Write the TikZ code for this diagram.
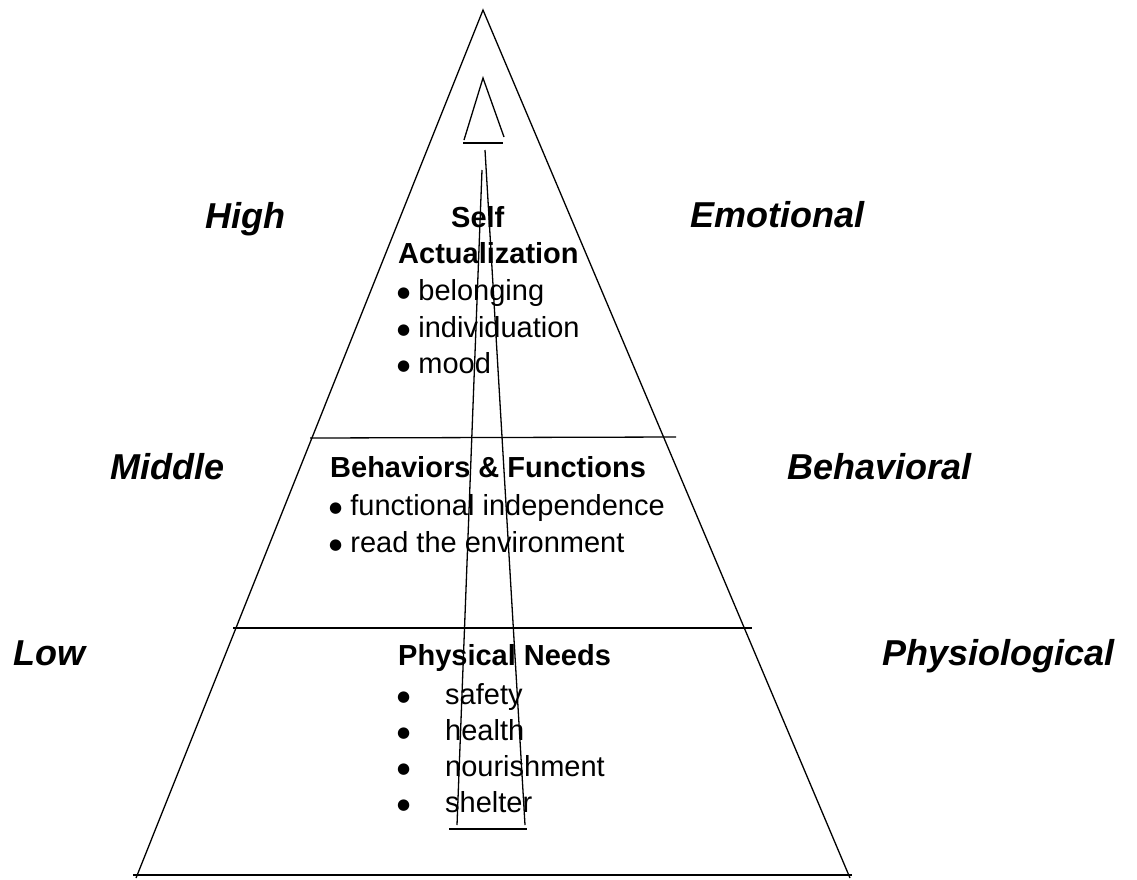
\documentclass[tikz,border=0pt]{standalone}
\usepackage{fontspec}
\setmainfont{Liberation Sans}
\newfontfamily\dejavu{DejaVu Sans}
\newcommand\bigbul{\makebox[0.35em][l]{\hspace*{-1pt}\raisebox{3pt}{\dejavu\fontsize{15}{15}\selectfont ●}}\hspace{2pt}}
\begin{document}
\begin{tikzpicture}[x=1pt,y=-1pt,
  ln/.style={line width=1.3pt, black},
  side/.style={font=\fontsize{36}{40}\selectfont\bfseries\itshape, anchor=base west, inner sep=0pt},
  body/.style={font=\fontsize{29}{34}\selectfont, anchor=base west, inner sep=0pt},
  head/.style={font=\fontsize{29}{34}\selectfont\bfseries, anchor=base west, inner sep=0pt}]
\useasboundingbox (0,0) rectangle (1137,879);
% big pyramid
\coordinate (apex) at (483,10);
\coordinate (bl) at (136,878);
\coordinate (br) at (850,878);
\draw[ln] (bl) -- (apex) -- (br);
\coordinate (h1l) at (310,438); \coordinate (h1r) at (676,437);
\coordinate (h2l) at (233,628); \coordinate (h2r) at (752,628);
\coordinate (h3l) at (133,875); \coordinate (h3r) at (852,875);
\draw[ln] (h1l) -- (h1r);
\draw[ln] (h2l) -- (h2r);
\draw[ln] (h3l) -- (h3r);
% small arrowhead triangle
\coordinate (sa) at (483,78);
\coordinate (sl) at (464,140);
\coordinate (sr) at (504,137);
\draw[ln] (sl) -- (sa) -- (sr);
\coordinate (sbl) at (463,143); \coordinate (sbr) at (503,143);
\draw[ln] (sbl) -- (sbr);
% long narrow shaft
\coordinate (ltop) at (482,170); \coordinate (lbot) at (457,825);
\coordinate (rtop) at (485,150); \coordinate (rbot) at (525,825);
\draw[ln] (ltop) -- (lbot);
\draw[ln] (rtop) -- (rbot);
\coordinate (bbl) at (449,829); \coordinate (bbr) at (527,829);
\draw[ln] (bbl) -- (bbr);
% side labels
\node[side] (high) at (205,228) {High};
\node[side] (emo) at (690,227) {Emotional};
\node[side] (mid) at (110,479) {Middle};
\node[side] (beh) at (787,479) {Behavioral};
\node[side] (low) at (13,665) {Low};
\node[side] (phy) at (882,665) {Physiological};
% top section
\node[head] (self) at (451,227) {Self};
\node[head] (act) at (398,263) {Actualization};
\node[body] (b1) at (398,300) {\bigbul\ belonging};
\node[body] (b2) at (398,337) {\bigbul\ individuation};
\node[body] (b3) at (398,373) {\bigbul\ mood};
% middle section
\node[head] (bf) at (330,477) {Behaviors \& Functions};
\node[body] (m1) at (330,515) {\bigbul\ functional independence};
\node[body] (m2) at (330,552) {\bigbul\ read the environment};
% low section
\node[head] (pn) at (398,665) {Physical Needs};
\node[body] (d1) at (398,704) {\bigbul};
\node[body] (d2) at (398,740) {\bigbul};
\node[body] (d3) at (398,776) {\bigbul};
\node[body] (d4) at (398,812) {\bigbul};
\node[body] (p1) at (445,704) {safety};
\node[body] (p2) at (445,740) {health};
\node[body] (p3) at (445,776) {nourishment};
\node[body] (p4) at (445,812) {shelter};
\end{tikzpicture}
\end{document}
